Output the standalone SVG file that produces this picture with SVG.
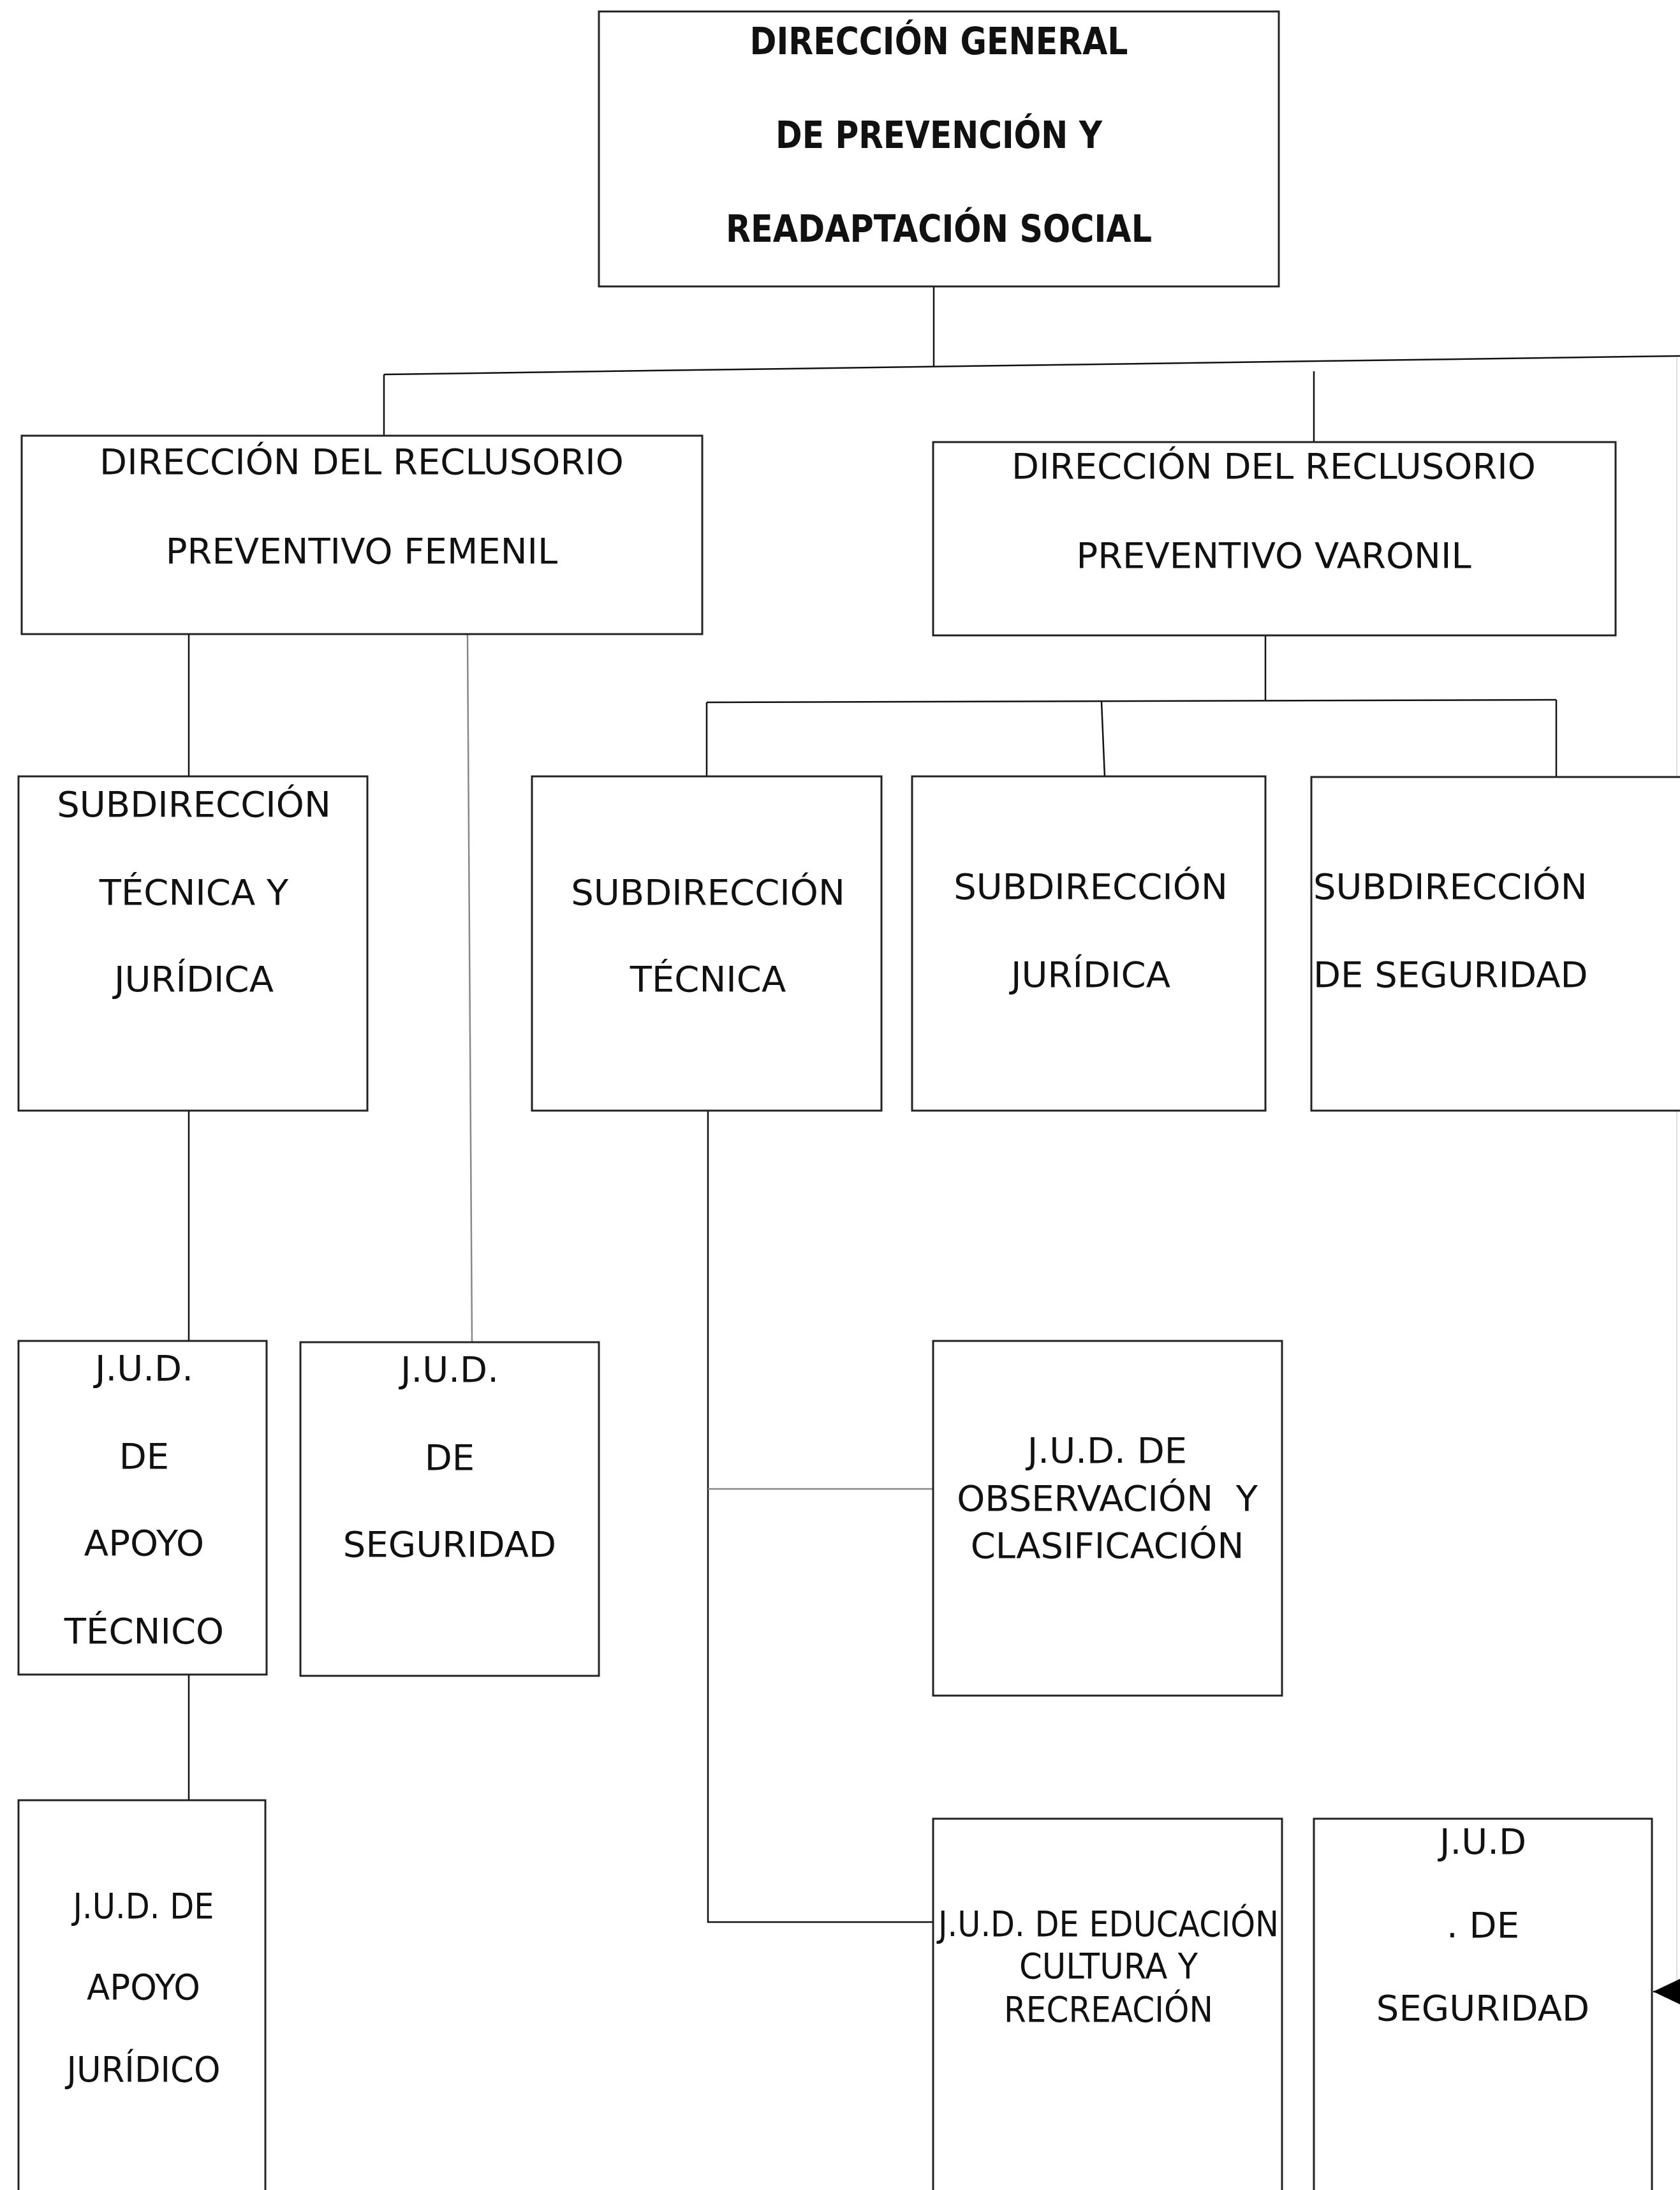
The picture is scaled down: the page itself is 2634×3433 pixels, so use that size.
<svg xmlns="http://www.w3.org/2000/svg" width="2634" height="3433" viewBox="0 0 2634 3433">
<style>
.box{fill:#fff;stroke:#222;stroke-width:3}
.t{font-family:"DejaVu Sans","Liberation Sans",sans-serif;font-size:56px;fill:#111;text-anchor:middle;white-space:pre}
.ttl{font-family:"DejaVu Sans Condensed","Liberation Sans",sans-serif;font-weight:bold;font-size:58px;fill:#111;text-anchor:middle}
.c{fill:none;stroke:#111;stroke-width:2.5}
.g{fill:none;stroke:#888;stroke-width:2.5}
.f{fill:none;stroke:#ddd;stroke-width:2}
</style>
<defs>
<marker id="arr" markerUnits="userSpaceOnUse" markerWidth="44" markerHeight="42" refX="42" refY="20" orient="auto">
<path d="M0,0 L42,20 L0,40 Z" fill="#000"/>
</marker>
</defs>
<rect width="2634" height="3433" fill="#fff"/>
<g id="connectors">
<path class="c" d="M1464,449 V575"/>
<path class="c" d="M602,587 L2634,558"/>
<path class="c" d="M602,587 V683"/>
<path class="c" d="M2060,582 V692"/>
<path class="c" d="M1984,996 V1099"/>
<path class="c" d="M1108,1101 L2440,1097"/>
<path class="c" d="M1108,1101 V1217"/>
<path class="c" d="M1727,1100 L1732,1217"/>
<path class="c" d="M2440,1097 V1217"/>
<path class="c" d="M296,994 V1217"/>
<path class="g" d="M733,994 L740,2104"/>
<path class="c" d="M296,1741 V2102"/>
<path class="c" d="M296,2625 V2822"/>
<path class="c" d="M1110,1741 V3013 H1463"/>
<path class="g" d="M1110,2334 H1463"/>
<path class="f" d="M2629,560 V3122"/>
<path class="c" d="M2634,3122 H2592" marker-end="url(#arr)"/>
</g>
<g id="n-general">
<rect class="box" x="939" y="18" width="1066" height="431"/>
<text class="ttl" x="1472" y="85" textLength="593" lengthAdjust="spacingAndGlyphs">DIRECCIÓN GENERAL</text>
<text class="ttl" x="1472" y="232" textLength="512" lengthAdjust="spacingAndGlyphs">DE PREVENCIÓN Y</text>
<text class="ttl" x="1472" y="379" textLength="668" lengthAdjust="spacingAndGlyphs">READAPTACIÓN SOCIAL</text>
</g>
<g id="n-femenil">
<rect class="box" x="34" y="683" width="1067" height="311"/>
<text class="t" x="567" y="743">DIRECCIÓN DEL RECLUSORIO</text>
<text class="t" x="567" y="883">PREVENTIVO FEMENIL</text>
</g>
<g id="n-varonil">
<rect class="box" x="1463" y="693" width="1070" height="303"/>
<text class="t" x="1997" y="750">DIRECCIÓN DEL RECLUSORIO</text>
<text class="t" x="1997" y="890">PREVENTIVO VARONIL</text>
</g>
<g id="n-sub-tec-jur">
<rect class="box" x="29" y="1217" width="547" height="524"/>
<text class="t" x="304" y="1280">SUBDIRECCIÓN</text>
<text class="t" x="304" y="1418">TÉCNICA Y</text>
<text class="t" x="304" y="1554">JURÍDICA</text>
</g>
<g id="n-sub-tec">
<rect class="box" x="834" y="1217" width="548" height="524"/>
<text class="t" x="1110" y="1418">SUBDIRECCIÓN</text>
<text class="t" x="1110" y="1554">TÉCNICA</text>
</g>
<g id="n-sub-jur">
<rect class="box" x="1430" y="1217" width="554" height="524"/>
<text class="t" x="1710" y="1409">SUBDIRECCIÓN</text>
<text class="t" x="1710" y="1547">JURÍDICA</text>
</g>
<g id="n-sub-seg">
<rect class="box" x="2056" y="1218" width="600" height="523"/>
<text class="t" x="2059" y="1409" style="text-anchor:start">SUBDIRECCIÓN</text>
<text class="t" x="2059" y="1547" style="text-anchor:start">DE SEGURIDAD</text>
</g>
<g id="n-jud-apoyo-tec">
<rect class="box" x="29" y="2102" width="389" height="523"/>
<text class="t" x="226" y="2164">J.U.D.</text>
<text class="t" x="226" y="2302">DE</text>
<text class="t" x="226" y="2438">APOYO</text>
<text class="t" x="226" y="2576">TÉCNICO</text>
</g>
<g id="n-jud-seg-fem">
<rect class="box" x="471" y="2104" width="468" height="523"/>
<text class="t" x="705" y="2166">J.U.D.</text>
<text class="t" x="705" y="2304">DE</text>
<text class="t" x="705" y="2440">SEGURIDAD</text>
</g>
<g id="n-jud-apoyo-jur">
<rect class="box" x="29" y="2822" width="387" height="640"/>
<text class="t" x="225" y="3007" textLength="221" lengthAdjust="spacingAndGlyphs">J.U.D. DE</text>
<text class="t" x="225" y="3134" textLength="178" lengthAdjust="spacingAndGlyphs">APOYO</text>
<text class="t" x="225" y="3263" textLength="241" lengthAdjust="spacingAndGlyphs">JURÍDICO</text>
</g>
<g id="n-jud-obs">
<rect class="box" x="1463" y="2102" width="547" height="556"/>
<text class="t" x="1736" y="2293">J.U.D. DE</text>
<text class="t" x="1736" y="2368">OBSERVACIÓN  Y</text>
<text class="t" x="1736" y="2442">CLASIFICACIÓN</text>
</g>
<g id="n-jud-edu">
<rect class="box" x="1463" y="2851" width="547" height="620"/>
<text class="t" x="1738" y="3035" textLength="534" lengthAdjust="spacingAndGlyphs">J.U.D. DE EDUCACIÓN</text>
<text class="t" x="1738" y="3101" textLength="280" lengthAdjust="spacingAndGlyphs">CULTURA Y</text>
<text class="t" x="1738" y="3169" textLength="328" lengthAdjust="spacingAndGlyphs">RECREACIÓN</text>
</g>
<g id="n-jud-seg-var">
<rect class="box" x="2060" y="2851" width="530" height="620"/>
<text class="t" x="2325" y="2906">J.U.D</text>
<text class="t" x="2325" y="3037">. DE</text>
<text class="t" x="2325" y="3167">SEGURIDAD</text>
</g>
</svg>
